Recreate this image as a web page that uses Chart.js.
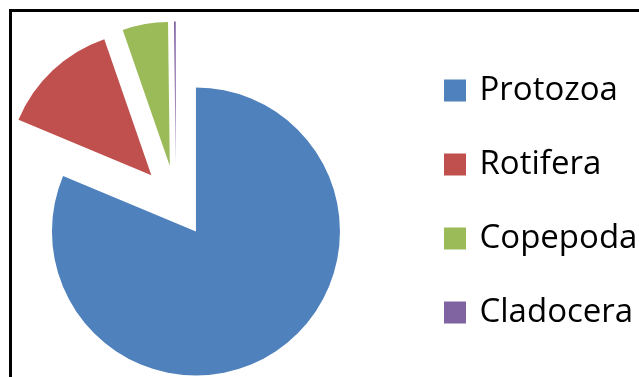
<!DOCTYPE html>
<html><head><meta charset="utf-8">
<script src="https://cdn.jsdelivr.net/npm/chart.js@4/dist/chart.umd.min.js"></script>
<style>
html,body{margin:0;padding:0;width:639px;height:377px;overflow:hidden;background:#fff;position:relative}
#wrap{position:absolute;left:-54px;top:0;width:693px;height:377px}
#frame{position:absolute;left:9px;top:9px;right:0;bottom:0;border-top:3px solid #000;border-left:3px solid #000;pointer-events:none}
</style></head><body>
<div id="wrap"><canvas id="c" width="693" height="377"></canvas></div>
<div id="frame"></div>
<script>
const categories = ['Protozoa', 'Rotifera', 'Copepoda', 'Cladocera'];
const shares = [81.3, 13.4, 5.1, 0.2];
const sliceColors = ['#4F81BD', '#C0504D', '#9BBB59', '#8064A2'];

// Excel-style explosion: every slice moved outward along its mid-angle, same radius
Chart.ArcElement.prototype.draw = function (ctx) {
  const o = this.options;
  const a0 = this.startAngle, a1 = this.endAngle;
  if (!(a1 > a0) || this.outerRadius <= 0) return;
  const mid = (a0 + a1) / 2;
  const d = o.offset || 0;
  const cx = this.x + Math.cos(mid) * d, cy = this.y + Math.sin(mid) * d;
  ctx.save();
  ctx.fillStyle = o.backgroundColor;
  ctx.beginPath();
  ctx.moveTo(cx, cy);
  ctx.arc(cx, cy, this.outerRadius, a0, a1);
  ctx.closePath();
  ctx.fill();
  ctx.restore();
};

const baseLabels = Chart.PieController.overrides.plugins.legend.labels.generateLabels;

new Chart(document.getElementById('c'), {
  type: 'pie',
  data: {
    labels: categories,
    datasets: [{
      data: shares,
      backgroundColor: sliceColors,
      borderWidth: 0,
      offset: 36,
      hoverOffset: 36,
      radius: 144
    }]
  },
  options: {
    responsive: false,
    maintainAspectRatio: false,
    devicePixelRatio: 1,
    animation: false,
    events: [],
    layout: { padding: { left: 0, top: 26, right: 0, bottom: 0 } },
    plugins: {
      tooltip: { enabled: false },
      legend: {
        position: 'right',
        align: 'center',
        maxWidth: 233,
        labels: {
          boxWidth: 16,
          boxHeight: 16,
          padding: 41,
          color: '#000',
          font: { family: '"Open Sans", sans-serif', size: 33 },
          generateLabels(chart) {
            const items = baseLabels(chart);
            items.forEach(it => { it.strokeStyle = it.fillStyle; it.lineWidth = 6; it.lineJoin = 'miter'; });
            return items;
          }
        }
      }
    }
  }
});
</script>
</body></html>
